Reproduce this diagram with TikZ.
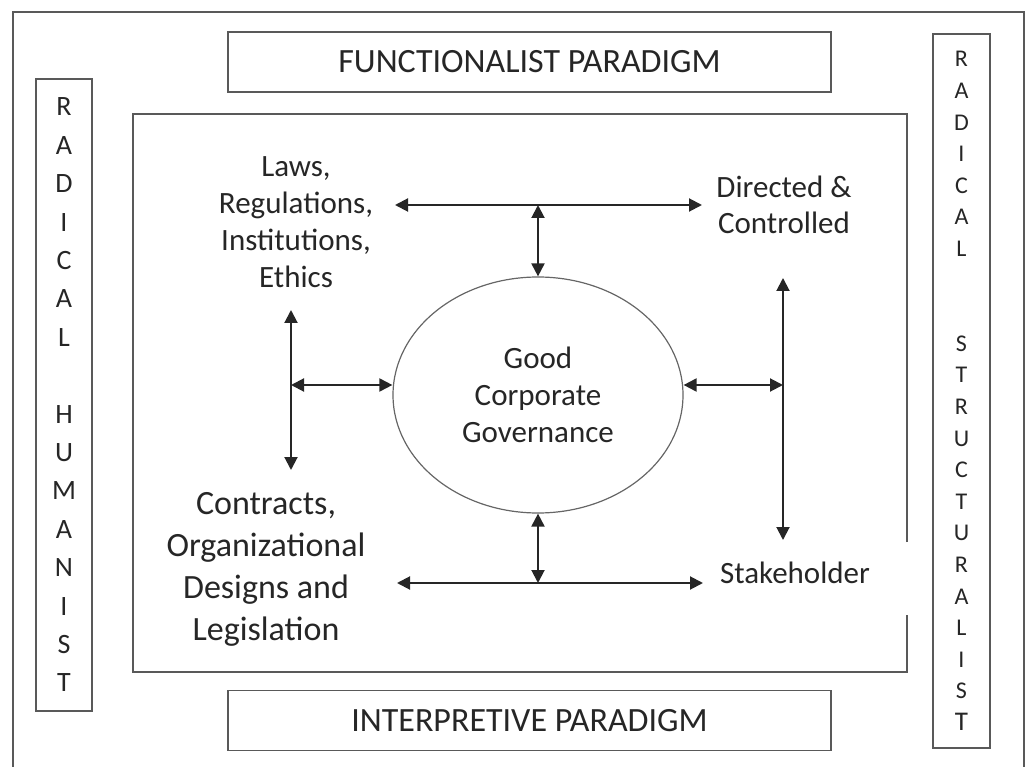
\documentclass[tikz,border=0pt]{standalone}
\usepackage{fontspec}
\setmainfont{Carlito}
\usetikzlibrary{shapes.geometric,arrows.meta}

\begin{document}
\begin{tikzpicture}[x=1pt,y=-1pt,
	boxline/.style={draw=black!65, line width=1.6pt},
	parabox/.style={boxline, minimum width=603pt, minimum height=60pt, inner sep=0pt, text=black!85, font=\fontsize{34}{40}\selectfont},
	sidebox/.style={boxline, inner sep=0pt, align=center, text=black!85},
	factor/.style={align=center, inner sep=0pt, text=black!85, font=\fontsize{31}{37}\selectfont},
	twoway/.style={{Triangle[length=13pt,width=13pt]}-{Triangle[length=13pt,width=13pt]}, line width=2pt, black!85}]
	\useasboundingbox (0,0) rectangle (1026,767);
	% outer frame, open at the bottom
	\draw[boxline] (13,767) -- (13,12) -- (1024,12) -- (1024,767);
	% the four paradigms
	\node[parabox] (func) at (529.5,62) {FUNCTIONALIST PARADIGM};
	\node[parabox] (interp) at (529.5,720.5) {INTERPRETIVE PARADIGM};
	\node[sidebox, minimum width=56pt, minimum height=632pt, font=\fontsize{28}{38.4}\selectfont] (humanist) at (64,395)
		{R\\A\\D\\I\\C\\A\\L\\[38.4pt]H\\U\\M\\A\\N\\I\\S\\T};
	\node[sidebox, minimum width=57pt, minimum height=714pt, font=\fontsize{24}{31.6}\selectfont] (structuralist) at (961.5,391)
		{R\\A\\D\\I\\C\\A\\L\\[63.2pt]S\\T\\R\\U\\C\\T\\U\\R\\A\\L\\I\\S\\{\fontsize{27}{31.6}\selectfont T}};
	% inner frame (broken beside Stakeholder)
	\draw[boxline] (907,542) -- (907,114) -- (133,114) -- (133,672) -- (907,672) -- (907,615);
	% centre and the four factors
	\node[factor, draw=black!60, line width=1.2pt, ellipse, minimum width=290pt, minimum height=236pt] (gcg) at (538,395)
		{Good\\Corporate\\Governance};
	\node[factor] (laws) at (296,222) {Laws,\\Regulations,\\Institutions,\\Ethics};
	\node[factor, font=\fontsize{34}{42}\selectfont] (contracts) at (266,569) {Contracts,\\Organizational\\Designs and\\Legislation};
	\node[factor, font=\fontsize{31}{36}\selectfont] (directed) at (784,205) {Directed \&\\Controlled};
	\node[factor] (stake) at (795,573) {Stakeholder};
	% arrow ends
	\coordinate (tl) at (395,205);
	\coordinate (tr) at (702,205);
	\coordinate (tm) at (538,205);
	\coordinate (bl) at (397,583);
	\coordinate (br) at (703,583);
	\coordinate (bm) at (538,583);
	\coordinate (lt) at (291,310);
	\coordinate (lb) at (291,470);
	\coordinate (lm) at (291,385);
	\coordinate (rt) at (783,278);
	\coordinate (rb) at (783,540);
	\coordinate (rm) at (783,385);
	\draw[twoway] (tl) -- (tr);
	\draw[twoway] (tm) -- (gcg.north);
	\draw[twoway] (bl) -- (br);
	\draw[twoway] (gcg.south) -- (bm);
	\draw[twoway] (lt) -- (lb);
	\draw[twoway] (lm) -- (gcg.west |- lm);
	\draw[twoway] (rt) -- (rb);
	\draw[twoway] (gcg.east |- rm) -- (rm);
\end{tikzpicture}
\end{document}
